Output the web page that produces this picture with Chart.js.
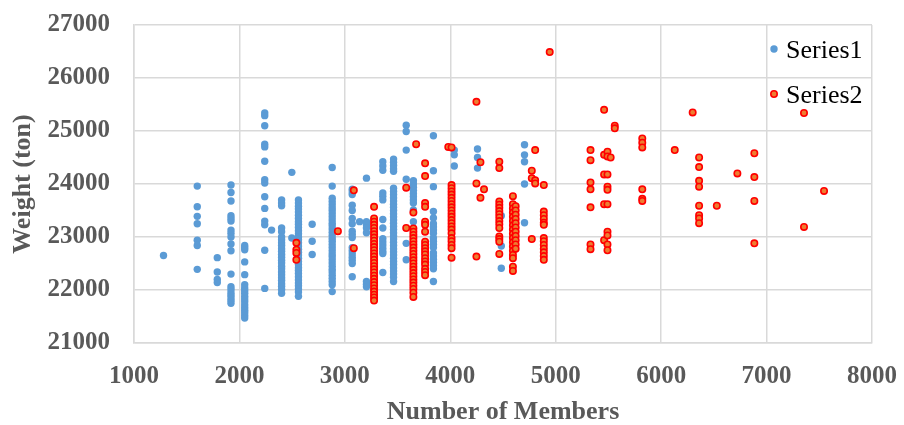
<!DOCTYPE html>
<html>
<head>
<meta charset="utf-8">
<script src="https://cdn.jsdelivr.net/npm/chart.js@4.4.1/dist/chart.umd.min.js"></script>
<style>
  html, body { margin: 0; padding: 0; background: #ffffff; }
  #wrap { width: 904px; height: 425px; position: relative; }
</style>
</head>
<body>
<div id="wrap"><canvas id="c" width="904" height="425"></canvas></div>
<script>
// ---- Data ----
const xTicks = [1000, 2000, 3000, 4000, 5000, 6000, 7000, 8000];
const yTicks = [21000, 22000, 23000, 24000, 25000, 26000, 27000];
const seriesNames = ["Series1", "Series2"];

// Series1: number of members per column, and the weights at each column
const s1Members = [1280, 1600, 1790, 1920, 2050, 2240, 2305, 2400, 2497, 2560, 2690, 2880, 3070, 3140, 3205, 3360, 3462, 3582, 3650, 3840, 4038, 4258, 4484, 4704];
const s1Weights = [
  [22650],
  [23960, 23570, 23390, 23250, 22940, 22840, 22390],
  [22610, 22340, 22200, 22140],
  [23980, 23840, 23680, 23400, 23350, 23300, 23130, 23070, 23000, 22870, 22740, 22300, 22060, 22010, 21950, 21900, 21850, 21800, 21750],
  [22840, 22800, 22760, 22530, 22290, 22100, 22040, 21990, 21940, 21880, 21830, 21780, 21720, 21670, 21620, 21570, 21520, 21470],
  [25340, 25290, 25100, 24750, 24700, 24430, 24080, 24020, 23760, 23540, 23300, 23230, 22750, 22030],
  [23130],
  [23700, 23640, 23590, 23170, 23100, 23000, 22950, 22890, 22840, 22780, 22730, 22670, 22620, 22560, 22510, 22450, 22400, 22340, 22290, 22230, 22180, 22120, 22070, 22010, 21940],
  [24220, 22980],
  [23700, 23640, 23580, 23530, 23470, 23410, 23350, 23290, 23240, 23180, 23120, 23060, 23000, 22950, 22890, 22830, 22770, 22710, 22660, 22600, 22540, 22480, 22420, 22370, 22310, 22250, 22190, 22130, 22080, 22020, 21960, 21880],
  [23240, 22920, 22670],
  [24310, 23960, 23730, 23670, 23610, 23550, 23500, 23440, 23380, 23320, 23260, 23210, 23150, 23090, 23030, 22970, 22920, 22860, 22800, 22740, 22680, 22630, 22570, 22510, 22450, 22390, 22340, 22280, 22220, 22160, 22100, 21970],
  [23900, 23850, 23800, 23600, 23500, 23350, 23250, 23110, 23050, 22990, 22800, 22740, 22680, 22620, 22560, 22500, 22250],
  [23290],
  [24110, 23290, 23230, 23170, 23080, 22160, 22110, 22060],
  [24420, 24340, 24260, 23830, 23770, 23700, 23330, 23170, 22970, 22910, 22850, 22790, 22730, 22690, 22330],
  [24470, 24410, 24350, 24290, 24240, 23920, 23860, 23800, 23740, 23680, 23620, 23560, 23500, 23440, 23380, 23320, 23260, 23200, 23140, 23080, 23020, 22960, 22900, 22840, 22780, 22720, 22660, 22600, 22540, 22480, 22420, 22360, 22300, 22240, 22160],
  [25110, 24990, 24640, 24090, 22880, 22570],
  [24060, 24000, 23940, 23880, 23820, 23760, 23700, 23640, 23510, 23290],
  [24910, 24250, 23950, 23480, 23360, 23250, 23190, 23130, 23070, 22980, 22920, 22860, 22800, 22700, 22640, 22580, 22520, 22460, 22400, 22160],
  [24640, 24550, 24340],
  [24660, 24500, 24300],
  [23400, 22830, 22410],
  [24740, 24550, 24420, 24000, 23270]
];

// Series2
const s2Members = [2540, 2934, 3085, 3277, 3582, 3650, 3676, 3761, 3981, 4012, 4248, 4286, 4320, 4465, 4594, 4620, 4773, 4805, 4887, 4943, 5330, 5459, 5491, 5521, 5560, 5821, 6129, 6299, 6360, 6528, 6723, 6884, 7355, 7545];
const s2Weights = [
  [22890, 22760, 22700, 22570],
  [23110],
  [23880, 22790],
  [23570, 23350, 23290, 23230, 23170, 23110, 23050, 22990, 22930, 22870, 22810, 22750, 22690, 22630, 22570, 22510, 22450, 22390, 22330, 22270, 22210, 22150, 22090, 22030, 21970, 21910, 21860, 21800],
  [23930, 23170],
  [23460, 23160, 23100, 23040, 22980, 22920, 22860, 22800, 22740, 22680, 22620, 22560, 22500, 22440, 22380, 22320, 22260, 22200, 22140, 22080, 22020, 21950, 21870],
  [24750],
  [24390, 24150, 23640, 23570, 23290, 23230, 23100, 22910, 22850, 22790, 22730, 22670, 22600, 22540, 22480, 22400, 22340, 22280],
  [24700],
  [24690, 23980, 23920, 23860, 23800, 23740, 23680, 23620, 23560, 23500, 23440, 23380, 23320, 23260, 23200, 23140, 23070, 22980, 22920, 22850, 22790, 22610],
  [25550, 24010, 22630],
  [24410, 23740],
  [23900],
  [24420, 24300, 23670, 23610, 23550, 23490, 23430, 23370, 23300, 23240, 23170, 23010, 22960, 22910, 22680],
  [23770, 23620, 23540, 23460, 23380, 23300, 23220, 23140, 23060, 22980, 22900, 22820, 22740, 22660, 22600, 22440, 22360],
  [23580, 23500, 23420, 23340, 23260, 23180, 23100, 23020, 22940, 22860, 22780],
  [24250, 24110, 22960],
  [24640, 24070, 24010],
  [23980, 23480, 23410, 23340, 23270, 23230, 22980, 22920, 22850, 22780, 22710, 22640, 22570],
  [26490],
  [24640, 24450, 24030, 23900, 23560, 22860, 22770],
  [25400, 24550, 24180, 23620, 22940],
  [24610, 24520, 24180, 23950, 23890, 23620, 23100, 23030, 22860, 22750],
  [24500],
  [25100, 25050],
  [24860, 24780, 24690, 23900, 23720, 23680],
  [24640],
  [25350],
  [24500, 24320, 24060, 23950, 23590, 23410, 23350, 23260],
  [23590],
  [24200],
  [24580, 24130, 23680, 22880],
  [25340, 23190],
  [23870]
];

function toPoints(members, weights) {
  const pts = [];
  members.forEach((m, i) => weights[i].forEach(w => pts.push({ x: m, y: w })));
  return pts;
}

const FONT = "'Liberation Serif', 'Times New Roman', serif";
const AXIS_GRAY = '#595959';
const GRID = '#d9d9d9';

const legendPlugin = {
  id: 'insideLegend',
  afterDraw(chart) {
    const ctx = chart.ctx;
    const rows = [{ y: 49, ty: 58 }, { y: 94, ty: 103 }];
    ctx.save();
    chart.data.datasets.forEach((ds, i) => {
      const r = rows[i];
      ctx.beginPath();
      ctx.arc(774, r.y, ds.pointRadius, 0, Math.PI * 2);
      ctx.fillStyle = ds.backgroundColor;
      ctx.fill();
      if (ds.borderWidth) {
        ctx.lineWidth = ds.borderWidth;
        ctx.strokeStyle = ds.borderColor;
        ctx.stroke();
      }
      ctx.font = '26px ' + FONT;
      ctx.fillStyle = '#000000';
      ctx.textBaseline = 'alphabetic';
      ctx.textAlign = 'left';
      ctx.fillText(ds.label, 786, r.ty);
    });
    ctx.restore();
  }
};

new Chart(document.getElementById('c'), {
  type: 'scatter',
  data: {
    datasets: [
      {
        label: seriesNames[0],
        data: toPoints(s1Members, s1Weights),
        backgroundColor: '#5b9bd5',
        borderColor: '#5b9bd5',
        borderWidth: 0,
        pointRadius: 3.7,
        order: 2
      },
      {
        label: seriesNames[1],
        data: toPoints(s2Members, s2Weights),
        backgroundColor: '#ed7d31',
        borderColor: '#ff0000',
        borderWidth: 1.6,
        pointRadius: 3.2,
        order: 1
      }
    ]
  },
  options: {
    responsive: false,
    animation: false,
    devicePixelRatio: 1,
    layout: { padding: { left: 0, right: 32, top: 25, bottom: 0 } },
    plugins: {
      legend: { display: false },
      tooltip: { enabled: false }
    },
    scales: {
      x: {
        type: 'linear',
        min: xTicks[0],
        max: xTicks[xTicks.length - 1],
        afterBuildTicks: s => { s.ticks = xTicks.map(v => ({ value: v })); },
        afterFit: s => { s.height = 82; s.paddingLeft = 0; s.paddingRight = 0; },
        grid: { color: GRID, lineWidth: 1.5, drawTicks: false },
        border: { color: GRID, width: 1.5 },
        ticks: {
          padding: 19,
          color: AXIS_GRAY,
          font: { family: FONT, size: 25, weight: 'bold' },
          callback: v => String(v),
          maxRotation: 0
        },
        title: {
          display: true,
          text: 'Number of Members',
          color: AXIS_GRAY,
          font: { family: FONT, size: 26, weight: 'bold', lineHeight: 1.0 },
          padding: { top: 0, bottom: 0 }
        }
      },
      y: {
        type: 'linear',
        min: yTicks[0],
        max: yTicks[yTicks.length - 1],
        afterBuildTicks: s => { s.ticks = yTicks.map(v => ({ value: v })); },
        afterFit: s => { s.width = 134; s.paddingTop = 0; s.paddingBottom = 0; },
        grid: { color: GRID, lineWidth: 1.5, drawTicks: false },
        border: { color: GRID, width: 1.5 },
        ticks: {
          padding: 24,
          color: AXIS_GRAY,
          font: { family: FONT, size: 25, weight: 'bold' },
          callback: v => String(v)
        },
        title: {
          display: true,
          text: 'Weight (ton)',
          color: AXIS_GRAY,
          font: { family: FONT, size: 26, weight: 'bold', lineHeight: 1.0 },
          padding: { top: 10, bottom: 0 }
        }
      }
    }
  },
  plugins: [legendPlugin]
});
</script>
</body>
</html>
